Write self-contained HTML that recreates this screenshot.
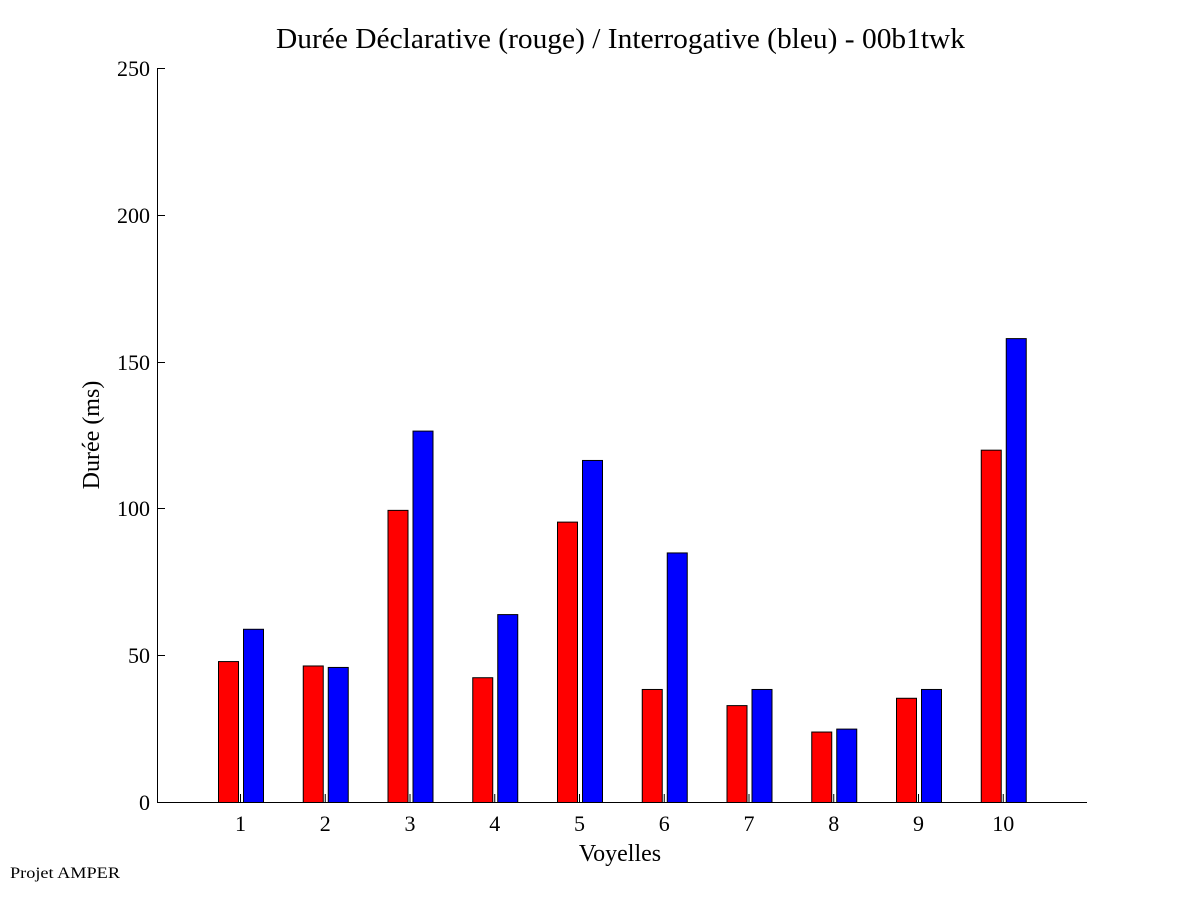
<!DOCTYPE html>
<html><head><meta charset="utf-8"><style>body{margin:0;background:#fff}svg{display:block}</style></head><body>
<svg width="1201" height="901" xmlns="http://www.w3.org/2000/svg" font-family="Liberation Serif, serif">
<rect width="1201" height="901" fill="#fff"/>
<text x="276" y="48" font-size="28" textLength="689" lengthAdjust="spacingAndGlyphs">Durée Déclarative (rouge) / Interrogative (bleu) - 00b1twk</text>
<g stroke="#000" stroke-width="1">
<line x1="157.5" y1="68" x2="157.5" y2="802.5"/>
<line x1="157" y1="802.5" x2="1087" y2="802.5"/>
<line x1="157" y1="68.5" x2="165" y2="68.5"/>
<line x1="157" y1="215.5" x2="165" y2="215.5"/>
<line x1="157" y1="362.5" x2="165" y2="362.5"/>
<line x1="157" y1="508.5" x2="165" y2="508.5"/>
<line x1="157" y1="655.5" x2="165" y2="655.5"/>
</g>
<g font-size="22" text-anchor="end">
<text x="150" y="76">250</text><text x="150" y="223">200</text><text x="150" y="370">150</text><text x="150" y="516">100</text><text x="150" y="663">50</text><text x="150" y="810">0</text>
</g>
<g id="bars" stroke="#000" stroke-width="1"></g>
<g font-size="22" text-anchor="middle" id="xl"></g>
<text x="620" y="861" font-size="24" text-anchor="middle">Voyelles</text>
<text transform="translate(99,435) rotate(-90)" font-size="24" text-anchor="middle">Durée (ms)</text>
<text x="10" y="878" font-size="16" textLength="110" lengthAdjust="spacingAndGlyphs">Projet AMPER</text>
<script>
var r=[48,46.5,99.5,42.5,95.5,38.5,33,24,35.5,120],b=[59,46,126.5,64,116.5,85,38.5,25,38.5,158];
var g=document.getElementById('bars'),xl=document.getElementById('xl'),ns='http://www.w3.org/2000/svg',s=734/250;
for(var i=0;i<10;i++){var c=240.5+i*84.75;
function R(x,v,f){var e=document.createElementNS(ns,'rect');e.setAttribute('x',x);e.setAttribute('y',802.5-v*s);e.setAttribute('width',20);e.setAttribute('height',v*s);e.setAttribute('fill',f);g.appendChild(e);}
R(c-22,r[i],'#f00');R(c+3,b[i],'#00f');
var l=document.createElementNS(ns,'line');l.setAttribute('x1',c);l.setAttribute('x2',c);l.setAttribute('y1',794);l.setAttribute('y2',802);g.appendChild(l);
var t=document.createElementNS(ns,'text');t.setAttribute('x',c);t.setAttribute('y',831);t.textContent=i+1;xl.appendChild(t);}
</script>
</svg></body></html>
